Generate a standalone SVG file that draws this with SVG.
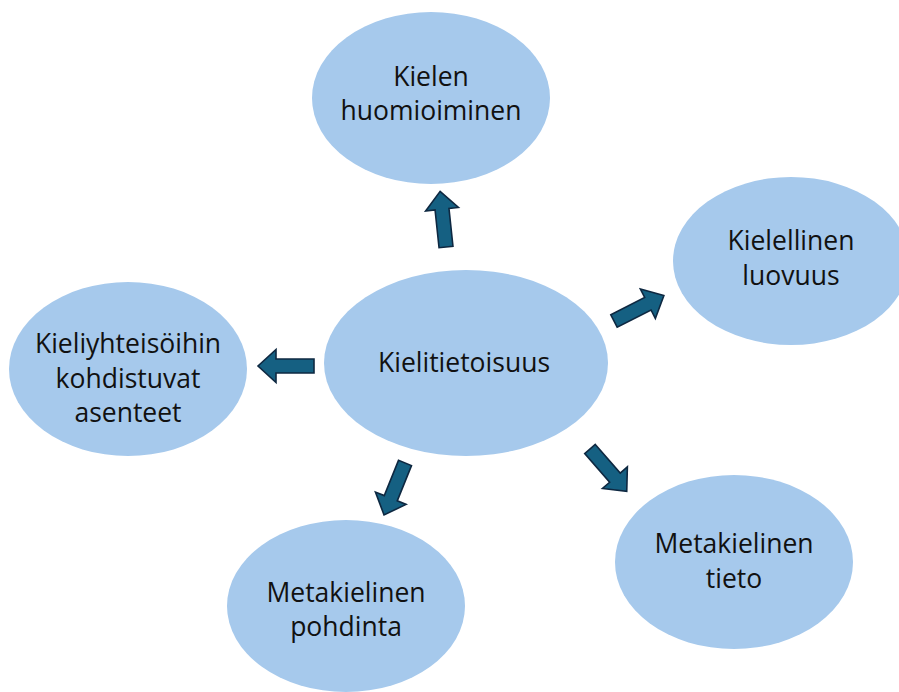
<svg xmlns="http://www.w3.org/2000/svg" width="899" height="692" viewBox="0 0 899 692">
<defs>
<style>
.n{fill:#A6C9EC;}
.t{font-family:"Open Sans","Liberation Sans",sans-serif;font-size:26.5px;fill:#111111;text-anchor:middle;}
.a{fill:#156082;stroke:#0E2841;stroke-width:1.6;stroke-linejoin:miter;}
</style>
<path id="arr" d="M0,-7 L38,-7 L38,-16.5 L56,0 L38,16.5 L38,7 L0,7 Z"/>
</defs>
<rect width="899" height="692" fill="#ffffff"/>
<g id="connectors">
<use href="#arr" class="a" transform="translate(446,247) rotate(-96)"/>
<use href="#arr" class="a" transform="translate(614,321) rotate(-27)"/>
<use href="#arr" class="a" transform="translate(590,449) rotate(49)"/>
<use href="#arr" class="a" transform="translate(405,463) rotate(112)"/>
<use href="#arr" class="a" transform="translate(314,366) rotate(180)"/>
</g>
<g id="center">
<ellipse class="n" cx="466" cy="363" rx="142" ry="93"/>
<text class="t" x="464" y="372">Kielitietoisuus</text>
</g>
<g id="top">
<ellipse class="n" cx="431" cy="98" rx="119" ry="86"/>
<text class="t" x="431" y="86">Kielen</text>
<text class="t" x="431" y="120">huomioiminen</text>
</g>
<g id="right">
<ellipse class="n" cx="791" cy="261" rx="118" ry="84"/>
<text class="t" x="791" y="250">Kielellinen</text>
<text class="t" x="791" y="285">luovuus</text>
</g>
<g id="left">
<ellipse class="n" cx="128" cy="369" rx="119" ry="87"/>
<text class="t" x="128" y="353">Kieliyhteisöihin</text>
<text class="t" x="128" y="388">kohdistuvat</text>
<text class="t" x="128" y="422">asenteet</text>
</g>
<g id="bottomleft">
<ellipse class="n" cx="346" cy="606" rx="119" ry="86"/>
<text class="t" x="346" y="602">Metakielinen</text>
<text class="t" x="346" y="636">pohdinta</text>
</g>
<g id="bottomright">
<ellipse class="n" cx="734" cy="562" rx="119" ry="87"/>
<text class="t" x="734" y="553">Metakielinen</text>
<text class="t" x="734" y="588">tieto</text>
</g>
</svg>
